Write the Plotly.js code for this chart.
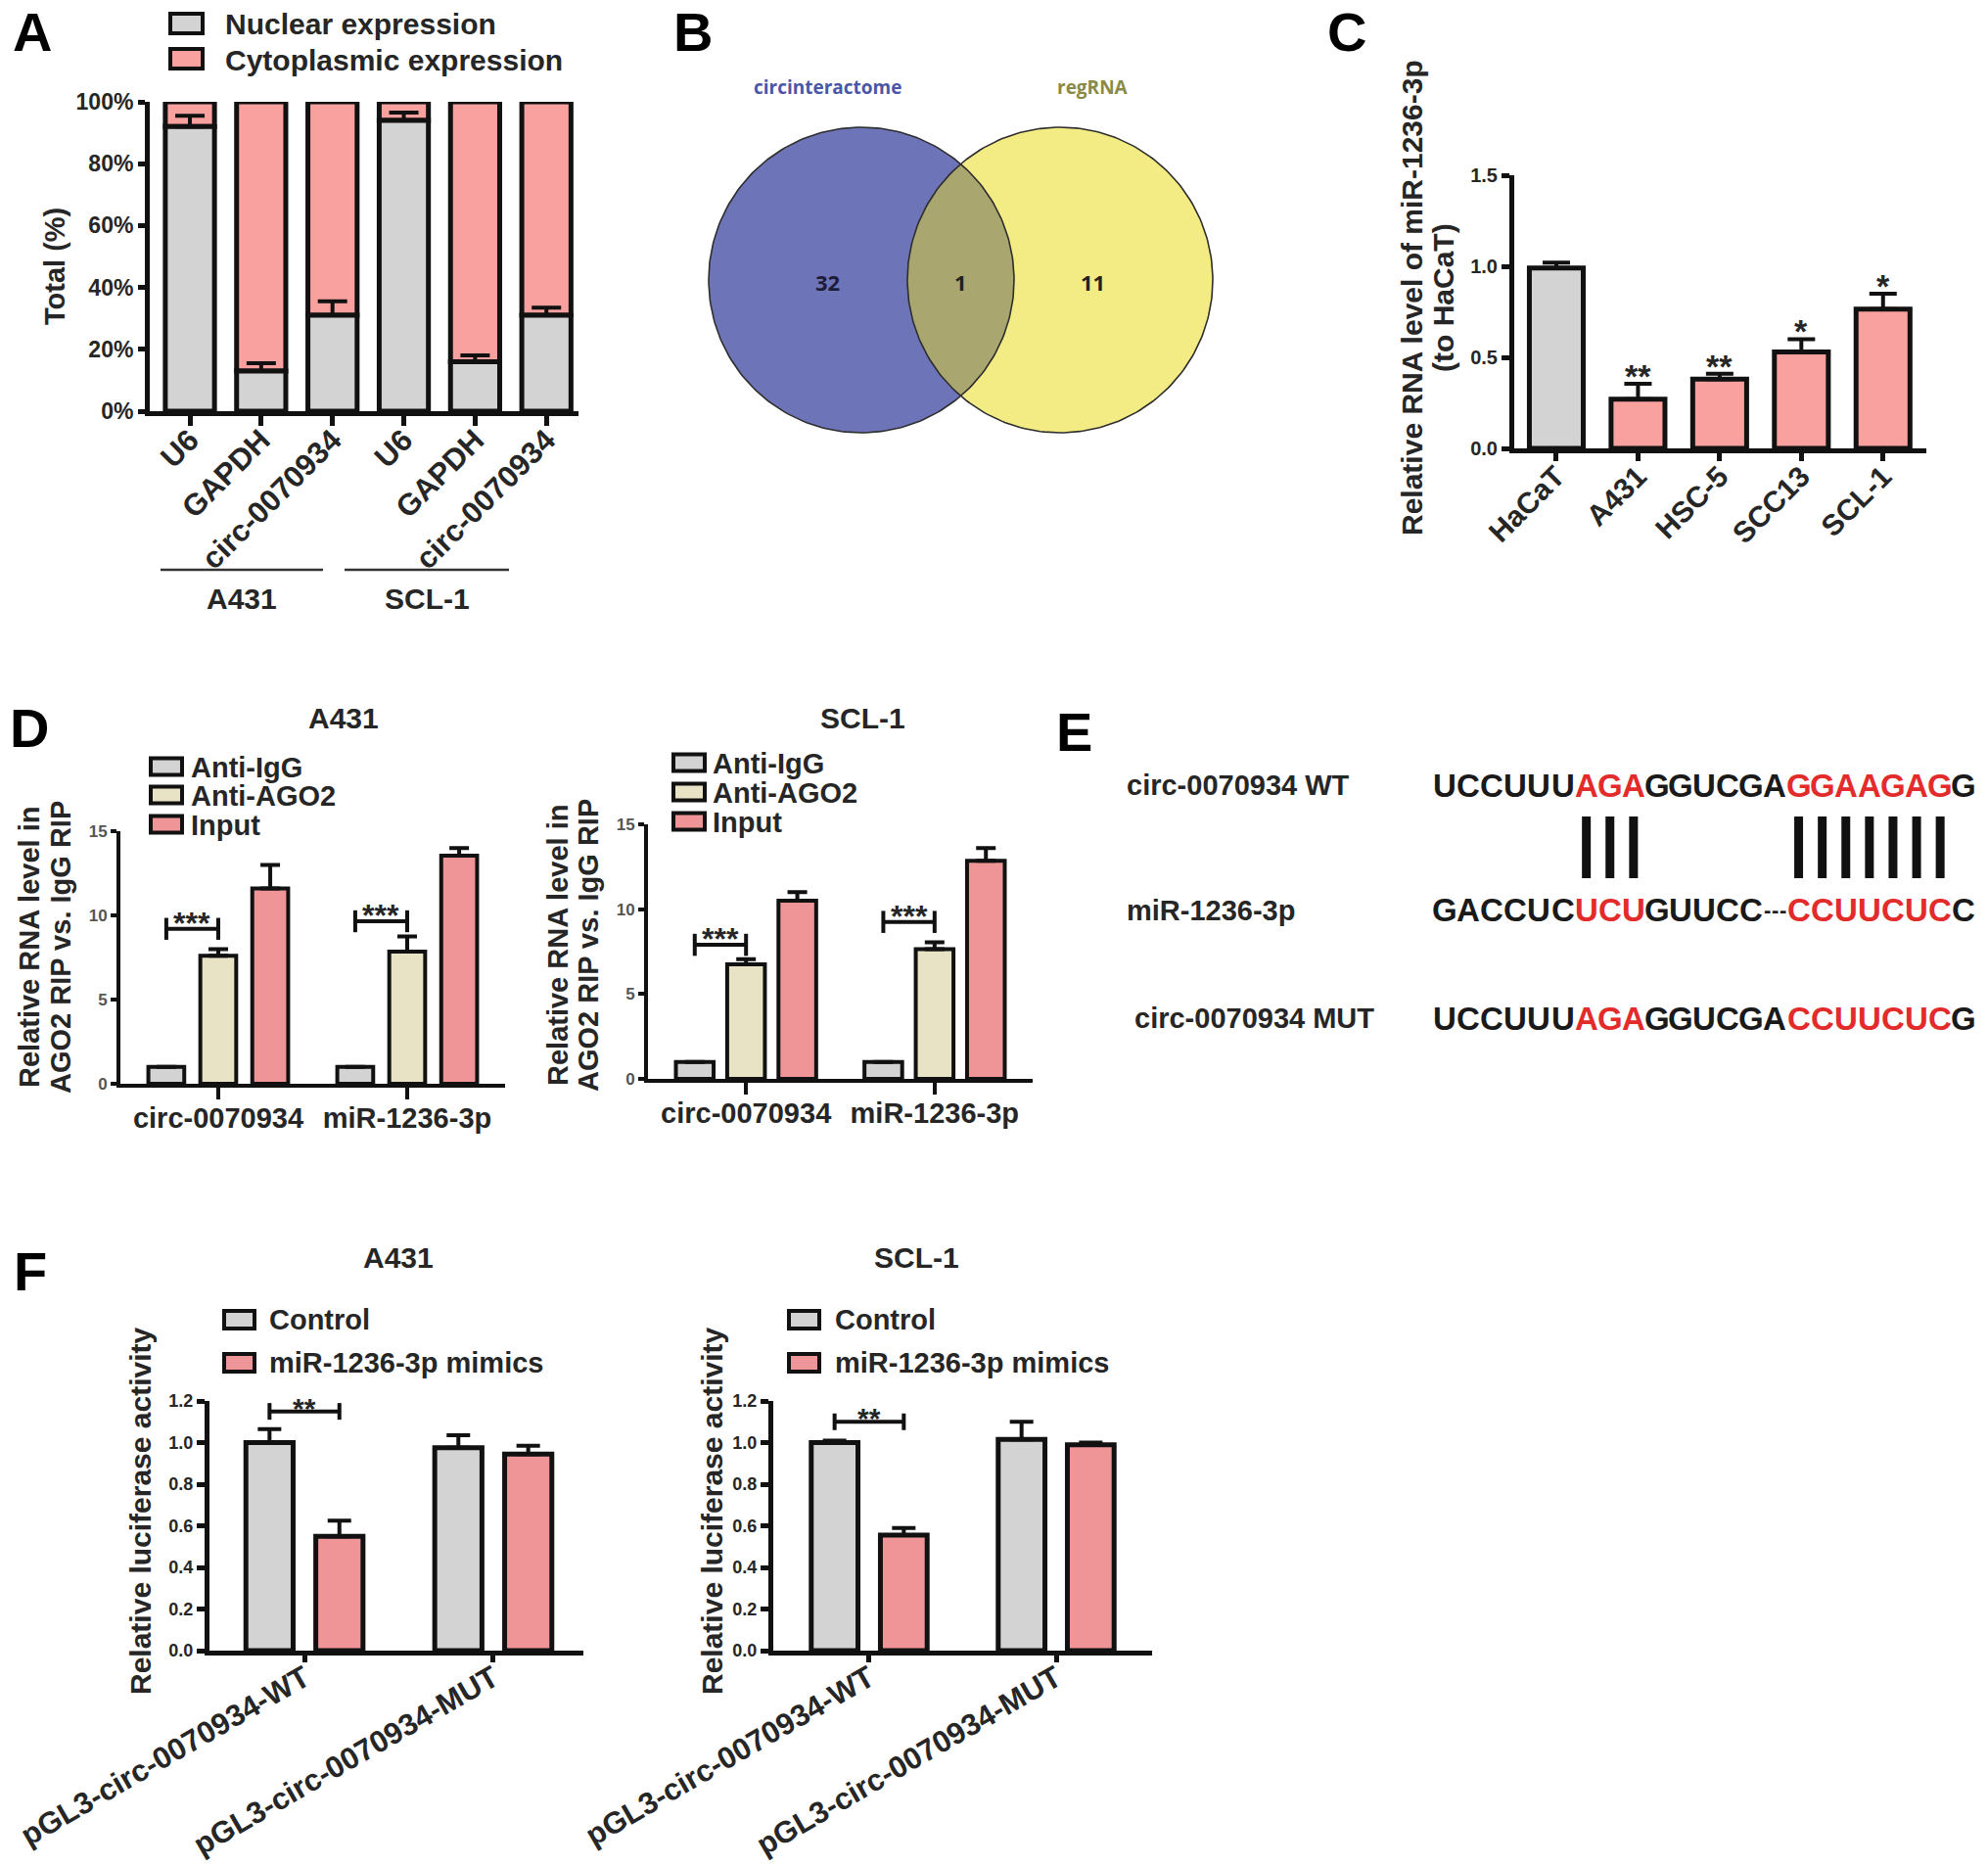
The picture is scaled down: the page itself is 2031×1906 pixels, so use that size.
<!DOCTYPE html>
<html><head><meta charset="utf-8">
<script src="https://cdn.plot.ly/plotly-3.0.1.min.js"></script>
<style>html,body{margin:0;padding:0;background:#fff}#chart{width:2031px;height:1906px}</style>
</head><body><div id="chart"></div>
<script>
// ---------------- DATA ----------------
// Panel A
const labelsA = ['U6','GAPDH','circ-0070934','U6','GAPDH','circ-0070934'];
const cellLinesA = ['A431','SCL-1'];
const nuclearA = [92, 13, 31, 94, 16, 31];
const nuclearErrA = [3.5, 2.5, 4.5, 2.5, 2, 2.5];
const cytoplasmicA = nuclearA.map(v => 100 - v);
const seriesA = ['Nuclear expression','Cytoplasmic expression'];
const ticksA = [0, 20, 40, 60, 80, 100];
// Panel B (Venn)
const vennSets = ['circinteractome','regRNA'];
const vennCounts = [32, 1, 11]; // only set1, both, only set2
// Panel C
const labelsC = ['HaCaT','A431','HSC-5','SCC13','SCL-1'];
const valuesC = [0.99, 0.27, 0.38, 0.53, 0.765];
const errC = [0.03, 0.085, 0.03, 0.07, 0.085];
const starsC = ['', '**', '**', '*', '*'];
// Panel D
const groupsD = ['circ-0070934','miR-1236-3p'];
const seriesD = ['Anti-IgG','Anti-AGO2','Input'];
const iggA431 = [1.0, 1.0],    iggA431Err = [0, 0];
const ago2A431 = [7.6, 7.85],  ago2A431Err = [0.4, 0.9];
const inputA431 = [11.6, 13.55], inputA431Err = [1.4, 0.45];
const iggSCL1 = [1.0, 1.0],    iggSCL1Err = [0, 0];
const ago2SCL1 = [6.75, 7.65], ago2SCL1Err = [0.3, 0.4];
const inputSCL1 = [10.5, 12.85], inputSCL1Err = [0.5, 0.75];
const sigLevelD_A431 = [9.2, 9.65];
const sigLevelD_SCL1 = [7.9, 9.25];
const sigLabelD = ['***', '***'];
// Panel E
const seqLabels = ['circ-0070934 WT','miR-1236-3p','circ-0070934 MUT'];
const seqWT  = 'UCCUUUAGAGGUCGAGGAAGAGG';
const seqMiR = 'GACCUCUCUGUUCC---CCUUCUCC';
const seqMUT = 'UCCUUUAGAGGUCGACCUUCUCG';
const redWT  = [6,7,8,15,16,17,18,19,20,21];
const redMiR = [6,7,8,17,18,19,20,21,22,23];
const redMUT = [6,7,8,15,16,17,18,19,20,21];
const pairedWT = [6,7,8,15,16,17,18,19,20,21];
// Panel F
const groupsF = ['pGL3-circ-0070934-WT','pGL3-circ-0070934-MUT'];
const seriesF = ['Control','miR-1236-3p mimics'];
const ctrlA431 = [1.0, 0.975],  ctrlA431Err = [0.065, 0.06];
const mimA431  = [0.55, 0.945], mimA431Err  = [0.075, 0.04];
const ctrlSCL1 = [1.0, 1.015],  ctrlSCL1Err = [0.01, 0.085];
const mimSCL1  = [0.555, 0.99], mimSCL1Err  = [0.035, 0.01];
const sigLevelF = [1.15, 1.10];
const sigLabelF = '**';

// ---------------- STYLE / LAYOUT HELPERS ----------------
const W = 2031, H = 1906;
const fx = p => p / W, fy = p => 1 - p / H;
const FONT = 'Liberation Sans, Arial, Helvetica, sans-serif';
const INK = '#262626', LINE = '#111111';
const GRAY = '#d3d3d3', PINK = '#f9a19e', PINK2 = '#ef9598', BEIGE = '#e9e3c6', RED = '#e22b2a';

const ann = [], shp = [], traces = [];

function txt(x, y, text, size, o) {
  ann.push(Object.assign({xref:'paper', yref:'paper', x:fx(x), y:fy(y), text:text, showarrow:false,
    xanchor:'center', yanchor:'middle', font:{family:FONT, size:size, color:INK, weight:'bold'}}, o || {}));
}
function legendBox(x0, x1, yc, h, color) {
  shp.push({type:'rect', xref:'paper', yref:'paper', x0:fx(x0), x1:fx(x1), y0:fy(yc + h/2), y1:fy(yc - h/2),
    fillcolor:color, line:{color:LINE, width:4}});
}
function xAx(l, r, anchor, range, o) {
  return Object.assign({domain:[fx(l), fx(r)], anchor:anchor, range:range, showline:true, linecolor:LINE, linewidth:5,
    ticks:'outside', ticklen:10, tickwidth:5, tickcolor:LINE, showgrid:false, zeroline:false, fixedrange:true,
    tickfont:{family:FONT, size:30, color:INK, weight:'bold'}}, o || {});
}
function yAx(t, b, anchor, range, o) {
  return Object.assign({domain:[fy(b), fy(t)], anchor:anchor, range:range, showline:true, linecolor:LINE, linewidth:5,
    ticks:'outside', ticklen:8, tickwidth:5, tickcolor:LINE, showgrid:false, zeroline:false, fixedrange:true,
    tickfont:{family:FONT, size:20, color:INK, weight:'bold'}}, o || {});
}
function errUp(arr, capw, th) {
  return {type:'data', symmetric:false, array:arr, arrayminus:arr.map(() => 0), color:LINE, thickness:th || 4, width:capw, visible:true};
}
function groupedBars(xa, ya, cats, names, vals, errs, centers, w, colors, lw, capw) {
  vals.forEach((v, i) => traces.push({type:'bar', name:names[i], xaxis:xa, yaxis:ya, x:cats, y:v,
    offset:centers[i] - w/2, width:w, marker:{color:colors[i], line:{color:LINE, width:lw}},
    error_y:errUp(errs[i], capw), hoverinfo:'skip', showlegend:false}));
}
function bracket(xa, ya, x0, x1, yb, d, label, size, yshift) {
  const base = {type:'line', xref:xa, yref:ya, line:{color:LINE, width:4}};
  shp.push(Object.assign({x0:x0, x1:x1, y0:yb, y1:yb}, base));
  shp.push(Object.assign({x0:x0, x1:x0, y0:yb - d, y1:yb + d}, base));
  shp.push(Object.assign({x0:x1, x1:x1, y0:yb - d, y1:yb + d}, base));
  ann.push({xref:xa, yref:ya, x:(x0 + x1)/2, y:yb, text:label, showarrow:false, xanchor:'center', yanchor:'bottom',
    yshift:yshift, font:{family:FONT, size:size, color:INK, weight:'bold'}});
}

// ---------------- PANEL A ----------------
const xA = labelsA.map((_, i) => i);
traces.push({type:'bar', name:seriesA[1], xaxis:'x', yaxis:'y', x:xA, y:cytoplasmicA, base:nuclearA,
  offset:-0.345, width:0.69, marker:{color:PINK, line:{color:LINE, width:5}}, hoverinfo:'skip', showlegend:false});
traces.push({type:'bar', name:seriesA[0], xaxis:'x', yaxis:'y', x:xA, y:nuclearA,
  offset:-0.345, width:0.69, marker:{color:GRAY, line:{color:LINE, width:5}},
  error_y:errUp(nuclearErrA, 15), hoverinfo:'skip', showlegend:false});
legendBox(174, 207, 24, 20, GRAY);
legendBox(174, 207, 60, 20, PINK);
txt(228, 25, seriesA[0], 30, {xanchor:'left'});
txt(228, 61, seriesA[1], 30, {xanchor:'left'});
txt(56, 272, 'Total (%)', 29, {textangle:-90});
[[164, 330], [352, 520]].forEach((seg, i) => {
  shp.push({type:'line', xref:'paper', yref:'paper', x0:fx(seg[0]), x1:fx(seg[1]), y0:fy(582), y1:fy(582), line:{color:'#333', width:2.5}});
  txt((seg[0] + seg[1]) / 2, 611, cellLinesA[i], 30);
});

// ---------------- PANEL B (Venn) ----------------
const VC = {cx1:880, cx2:1083, cy:286, r:156};
function arc(cx, cy, r, a0, a1, n) {
  const xs = [], ys = [];
  for (let k = 0; k <= n; k++) { const a = a0 + (a1 - a0) * k / n; xs.push(cx + r * Math.cos(a)); ys.push(cy + r * Math.sin(a)); }
  return [xs, ys];
}
const cL = arc(VC.cx1, VC.cy, VC.r, 0, 2 * Math.PI, 240);
const cR = arc(VC.cx2, VC.cy, VC.r, 0, 2 * Math.PI, 240);
const half = (VC.cx2 - VC.cx1) / 2;
const th = Math.acos(half / VC.r);
const lensA = arc(VC.cx1, VC.cy, VC.r, -th, th, 80);
const lensB = arc(VC.cx2, VC.cy, VC.r, Math.PI - th, Math.PI + th, 80);
const vennFill = (xy, color, name) => ({type:'scatter', mode:'lines', name:name, xaxis:'x7', yaxis:'y7', x:xy[0], y:xy[1],
  fill:'toself', fillcolor:color, line:{width:0, color:color}, hoverinfo:'skip', showlegend:false});
traces.push(vennFill(cL, '#6d75b8', vennSets[0]));
traces.push(vennFill(cR, '#f3ec85', vennSets[1]));
traces.push(vennFill([lensA[0].concat(lensB[0]), lensA[1].concat(lensB[1])], '#a9a76f', 'both'));
[cL, cR].forEach(xy => traces.push({type:'scatter', mode:'lines', xaxis:'x7', yaxis:'y7', x:xy[0], y:xy[1],
  line:{color:'#2e2e2e', width:1.6}, hoverinfo:'skip', showlegend:false}));
const vennText = (x, y, t, size, color) => ann.push({xref:'x7', yref:'y7', x:x, y:y, text:t, showarrow:false,
  xanchor:'center', yanchor:'middle', font:{family:'Open Sans, Lato, sans-serif', size:size, color:color, weight:'bold'}});
vennText(846, 89, vennSets[0], 19, '#4a56a6');
vennText(1116, 89, vennSets[1], 19, '#8a8a44');
vennText(845, 288, String(vennCounts[0]), 22, '#1c1c38');
vennText((VC.cx1 + VC.cx2) / 2, 288, String(vennCounts[1]), 22, '#222');
vennText(1116, 288, String(vennCounts[2]), 22, '#222');

// ---------------- PANEL C ----------------
traces.push({type:'bar', name:'miR-1236-3p', xaxis:'x2', yaxis:'y2', x:labelsC, y:valuesC,
  offset:-0.33, width:0.66, marker:{color:labelsC.map((_, i) => i === 0 ? GRAY : PINK), line:{color:LINE, width:5}},
  error_y:errUp(errC, 14), hoverinfo:'skip', showlegend:false});
starsC.forEach((s, i) => { if (s) ann.push({xref:'x2', yref:'y2', x:i, y:valuesC[i] + errC[i], text:s, showarrow:false,
  xanchor:'center', yanchor:'bottom', yshift:-13, font:{family:FONT, size:34, color:INK, weight:'bold'}}); });
txt(1442, 304, 'Relative RNA level of miR-1236-3p', 30, {textangle:-90});
txt(1474, 304, '(to HaCaT)', 30, {textangle:-90});

// ---------------- PANEL D ----------------
const cD1 = [-0.275, 0, 0.275], wD1 = 0.19;
const cD2 = [-0.272, 0, 0.272], wD2 = 0.2;
const colD = [GRAY, BEIGE, PINK2];
groupedBars('x3', 'y3', groupsD, seriesD, [iggA431, ago2A431, inputA431], [iggA431Err, ago2A431Err, inputA431Err], cD1, wD1, colD, 4, 10);
groupedBars('x4', 'y4', groupsD, seriesD, [iggSCL1, ago2SCL1, inputSCL1], [iggSCL1Err, ago2SCL1Err, inputSCL1Err], cD2, wD2, colD, 4, 10);
groupsD.forEach((g, i) => {
  bracket('x3', 'y3', i + cD1[0], i + cD1[1], sigLevelD_A431[i], 0.65, sigLabelD[i], 32, -14);
  bracket('x4', 'y4', i + cD2[0], i + cD2[1], sigLevelD_SCL1[i], 0.65, sigLabelD[i], 32, -14);
});
[[154, 186, 193, [783, 812, 842]], [688, 720, 726, [779, 809, 839]]].forEach(L => {
  seriesD.forEach((s, i) => { legendBox(L[0], L[1], L[3][i], 17, colD[i]); txt(L[2], L[3][i] + 1, s, 29, {xanchor:'left'}); });
});
txt(351, 733, 'A431', 30);
txt(881, 733, 'SCL-1', 30);
txt(30, 968, 'Relative RNA level in', 29, {textangle:-90});
txt(62, 968, 'AGO2 RIP vs. IgG RIP', 29, {textangle:-90});
txt(570, 966, 'Relative RNA level in', 29, {textangle:-90});
txt(601, 966, 'AGO2 RIP vs. IgG RIP', 29, {textangle:-90});

// ---------------- PANEL E ----------------
const SEQ_X0 = 1464, SEQ_STEP = 24.1;
function letterCenters(seq) {
  const c = []; let x = SEQ_X0;
  for (const ch of seq) { const w = ch === '-' ? SEQ_STEP / 3 : SEQ_STEP; c.push(x + w / 2); x += w; }
  return c;
}
function drawSeq(seq, red, yc) {
  const cs = letterCenters(seq);
  [...seq].forEach((ch, i) => {
    const size = ch === '-' ? 22 : 33;
    txt(cs[i], yc, ch, size, {font:{family:FONT, size:size, color:red.includes(i) ? RED : '#1a1a1a', weight:'bold'}});
  });
}
const rowsE = [802, 930, 1040];
drawSeq(seqWT, redWT, rowsE[0]);
drawSeq(seqMiR, redMiR, rowsE[1]);
drawSeq(seqMUT, redMUT, rowsE[2]);
txt(1149, rowsE[0], seqLabels[0], 29, {xanchor:'left'});
txt(1149, rowsE[1], seqLabels[1], 29, {xanchor:'left'});
txt(1157, rowsE[2], seqLabels[2], 29, {xanchor:'left'});
const wtCenters = letterCenters(seqWT);
pairedWT.forEach(i => shp.push({type:'line', xref:'paper', yref:'paper', x0:fx(wtCenters[i]), x1:fx(wtCenters[i]),
  y0:fy(834), y1:fy(897), line:{color:'#111', width:9}}));

// ---------------- PANEL F ----------------
const cF = [-0.185, 0.185], wF = 0.25;
const colF = [GRAY, PINK2];
groupedBars('x5', 'y5', groupsF, seriesF, [ctrlA431, mimA431], [ctrlA431Err, mimA431Err], cF, wF, colF, 5, 12);
groupedBars('x6', 'y6', groupsF, seriesF, [ctrlSCL1, mimSCL1], [ctrlSCL1Err, mimSCL1Err], cF, wF, colF, 5, 12);
bracket('x5', 'y5', cF[0], cF[1], sigLevelF[0], 0.04, sigLabelF, 30, -15);
bracket('x6', 'y6', cF[0], cF[1], sigLevelF[1], 0.04, sigLabelF, 30, -15);
[[229, 260, 273], [806, 837, 851]].forEach(L => {
  seriesF.forEach((s, i) => { legendBox(L[0], L[1], [1348, 1392][i], 18, colF[i]); txt(L[2], [1348, 1392][i], s, 29, {xanchor:'left'}); });
});
txt(407, 1284, 'A431', 30);
txt(936, 1284, 'SCL-1', 30);
txt(143, 1543, 'Relative luciferase activity', 30, {textangle:-90});
txt(727, 1543, 'Relative luciferase activity', 30, {textangle:-90});

// ---------------- PANEL LETTERS ----------------
[['A', 33, 32], ['B', 708, 32], ['C', 1376, 32], ['D', 30, 743], ['E', 1097, 747], ['F', 31, 1298]].forEach(p =>
  txt(p[1], p[2], p[0], 56, {font:{family:FONT, size:56, color:'#000', weight:'bold'}}));

// ---------------- LAYOUT ----------------
const smallTick = (size, color) => ({family:FONT, size:size, color:color || INK, weight:'bold'});
const layout = {
  width:W, height:H, margin:{l:0, r:0, t:0, b:0}, paper_bgcolor:'#fff', plot_bgcolor:'rgba(0,0,0,0)',
  showlegend:false, font:{family:FONT, color:INK},
  // A
  xaxis: xAx(153, 591, 'y', [-0.563, 5.45], {tickvals:xA, ticktext:labelsA, tickangle:-45, ticklabelstandoff:-16, tickfont:smallTick(31)}),
  yaxis: yAx(104, 420, 'x', [0, 100], {tickmode:'array', tickvals:ticksA, ticktext:ticksA.map(v => v + '%'), ticklen:7, tickfont:smallTick(23)}),
  // C
  xaxis2: xAx(1547, 1968, 'y2', [-0.515, 4.53], {tickangle:-45, ticklen:8, ticklabelstandoff:-14}),
  yaxis2: yAx(179, 458, 'x2', [0, 1.5], {tickvals:[0, 0.5, 1, 1.5], tickformat:'.1f', tickfont:smallTick(20)}),
  // D
  xaxis3: xAx(123, 516, 'y3', [-0.518, 1.518], {tickangle:0, ticklen:12, linewidth:4, tickwidth:4, tickfont:smallTick(29), ticklabelstandoff:-6}),
  yaxis3: yAx(849, 1107, 'x3', [0, 15], {dtick:5, ticklen:6, linewidth:4, tickwidth:4, tickfont:smallTick(17, '#555')}),
  xaxis4: xAx(662, 1055, 'y4', [-0.52, 1.52], {tickangle:0, ticklen:12, linewidth:4, tickwidth:4, tickfont:smallTick(29), ticklabelstandoff:-6}),
  yaxis4: yAx(842, 1102, 'x4', [0, 15], {dtick:5, ticklen:6, linewidth:4, tickwidth:4, tickfont:smallTick(17, '#555')}),
  // F
  xaxis5: xAx(214, 596, 'y5', [-0.503, 1.477], {tickangle:-30, ticklen:7, linewidth:5, tickfont:smallTick(31), ticklabelstandoff:-14}),
  yaxis5: yAx(1431, 1686, 'x5', [0, 1.2], {dtick:0.2, tickformat:'.1f', tickfont:smallTick(18)}),
  xaxis6: xAx(790, 1177, 'y6', [-0.513, 1.513], {tickangle:-30, ticklen:7, linewidth:5, tickfont:smallTick(31), ticklabelstandoff:-14}),
  yaxis6: yAx(1431, 1686, 'x6', [0, 1.2], {dtick:0.2, tickformat:'.1f', tickfont:smallTick(18)}),
  // Venn
  xaxis7: {domain:[fx(700), fx(1270)], range:[700, 1270], visible:false, fixedrange:true, anchor:'y7'},
  yaxis7: {domain:[fy(470), fy(60)], range:[470, 60], visible:false, fixedrange:true, anchor:'x7'},
  annotations: ann, shapes: shp
};
Plotly.newPlot('chart', traces, layout, {displayModeBar:false, staticPlot:true});
</script></body></html>
